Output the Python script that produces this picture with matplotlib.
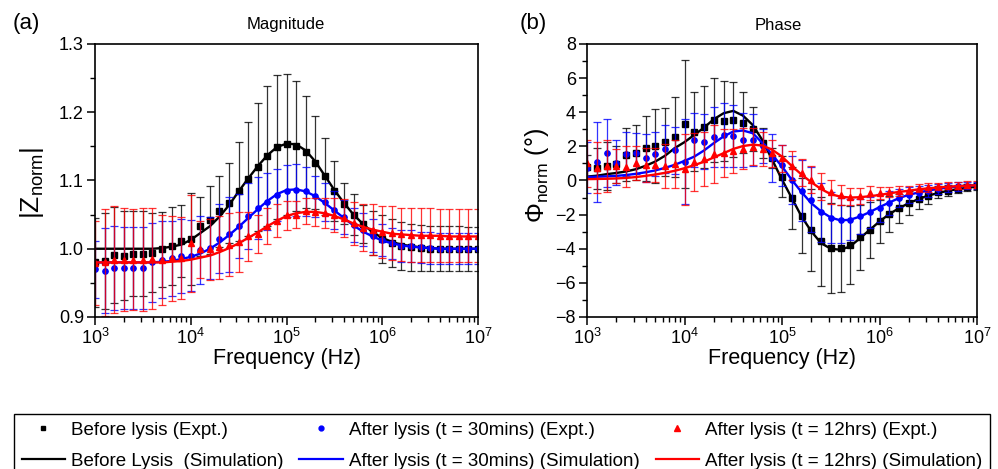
import numpy as np
import matplotlib
matplotlib.use("Agg")
import matplotlib.pyplot as plt
from matplotlib.lines import Line2D
from matplotlib.ticker import MultipleLocator, FormatStrFormatter

plt.rcParams['font.family'] = ['Liberation Sans', 'DejaVu Sans']
plt.rcParams['mathtext.fontset'] = 'custom'
plt.rcParams['mathtext.rm'] = 'Liberation Sans'
plt.rcParams['mathtext.it'] = 'Liberation Sans:italic'
plt.rcParams['mathtext.bf'] = 'Liberation Sans:bold'

# frequency grid: 10 points per decade, 1 kHz .. 10 MHz
freq = np.logspace(3, 7, 41)

# ---- magnitude |Z_norm| ----
mag_before = [0.980, 0.982, 0.991, 0.990, 0.993, 0.993, 0.994, 0.999, 1.004, 1.011,
              1.014, 1.033, 1.042, 1.055, 1.067, 1.084, 1.102, 1.120, 1.136, 1.149,
              1.153, 1.151, 1.142, 1.126, 1.106, 1.085, 1.066, 1.050, 1.036, 1.023,
              1.014, 1.008, 1.004, 1.002, 1.001, 1.000, 1.000, 1.000, 1.000, 1.000, 1.000]
mag_before_err = [0.065, 0.070, 0.070, 0.065, 0.062, 0.062, 0.058, 0.055, 0.057, 0.053,
                  0.067, 0.043, 0.050, 0.052, 0.059, 0.073, 0.083, 0.094, 0.102, 0.105,
                  0.103, 0.095, 0.082, 0.068, 0.056, 0.044, 0.030, 0.030, 0.028, 0.032,
                  0.035, 0.035, 0.035, 0.034, 0.034, 0.033, 0.033, 0.033, 0.033, 0.032, 0.032]
mag_before_sim = [1.000, 1.000, 1.000, 1.000, 1.000, 1.000, 1.000, 1.001, 1.003, 1.006,
                  1.013, 1.023, 1.033, 1.047, 1.064, 1.084, 1.103, 1.121, 1.137, 1.149,
                  1.154, 1.153, 1.144, 1.128, 1.107, 1.086, 1.067, 1.050, 1.036, 1.024,
                  1.016, 1.010, 1.006, 1.004, 1.002, 1.001, 1.000, 1.000, 1.000, 1.000, 1.000]

mag_30m = [0.970, 0.968, 0.972, 0.972, 0.972, 0.972, 0.980, 0.984, 0.986, 0.989,
           0.990, 0.998, 1.001, 1.015, 1.021, 1.033, 1.048, 1.060, 1.069, 1.079,
           1.084, 1.086, 1.084, 1.077, 1.068, 1.057, 1.047, 1.035, 1.028, 1.019,
           1.013, 1.008, 1.004, 1.004, 1.002, 1.001, 1.000, 1.000, 1.000, 1.000, 1.000]
mag_30m_err = [0.042, 0.062, 0.062, 0.060, 0.060, 0.060, 0.058, 0.056, 0.055, 0.054,
               0.052, 0.050, 0.045, 0.050, 0.055, 0.047, 0.048, 0.045, 0.042, 0.038,
               0.038, 0.038, 0.036, 0.030, 0.028, 0.028, 0.025, 0.025, 0.024, 0.024,
               0.023, 0.023, 0.023, 0.023, 0.023, 0.023, 0.023, 0.023, 0.023, 0.023, 0.023]
mag_30m_sim = [0.980, 0.980, 0.980, 0.980, 0.980, 0.980, 0.980, 0.981, 0.982, 0.985,
               0.988, 0.993, 1.000, 1.009, 1.020, 1.032, 1.045, 1.058, 1.070, 1.080,
               1.086, 1.087, 1.084, 1.077, 1.067, 1.056, 1.045, 1.034, 1.025, 1.018,
               1.012, 1.008, 1.005, 1.003, 1.002, 1.001, 1.000, 1.000, 1.000, 1.000, 1.000]

mag_12h = [0.979, 0.980, 0.984, 0.984, 0.984, 0.984, 0.985, 0.984, 0.986, 0.987,
           1.008, 0.999, 0.999, 1.002, 1.006, 1.010, 1.018, 1.022, 1.033, 1.041,
           1.049, 1.050, 1.055, 1.054, 1.052, 1.050, 1.045, 1.037, 1.031, 1.028,
           1.024, 1.023, 1.021, 1.020, 1.020, 1.020, 1.019, 1.019, 1.019, 1.019, 1.019]
mag_12h_err = [0.062, 0.078, 0.078, 0.075, 0.074, 0.075, 0.074, 0.066, 0.062, 0.060,
               0.071, 0.042, 0.045, 0.046, 0.046, 0.044, 0.036, 0.028, 0.026, 0.024,
               0.021, 0.020, 0.019, 0.020, 0.022, 0.025, 0.028, 0.032, 0.035, 0.037,
               0.038, 0.039, 0.039, 0.039, 0.039, 0.039, 0.039, 0.039, 0.039, 0.039, 0.039]
mag_12h_sim = [0.980, 0.980, 0.980, 0.980, 0.980, 0.980, 0.980, 0.980, 0.981, 0.982,
               0.984, 0.987, 0.990, 0.995, 1.001, 1.008, 1.016, 1.024, 1.033, 1.041,
               1.048, 1.052, 1.054, 1.054, 1.052, 1.048, 1.043, 1.037, 1.032, 1.028,
               1.025, 1.022, 1.021, 1.020, 1.019, 1.019, 1.019, 1.018, 1.018, 1.018, 1.018]

# ---- phase Phi_norm (deg) ----
ph_before = [0.82, 0.72, 0.85, 0.95, 1.50, 1.64, 1.89, 2.02, 2.27, 2.57,
             3.31, 2.86, 3.15, 3.55, 3.49, 3.55, 3.39, 3.00, 2.19, 1.31,
             0.23, -1.03, -2.07, -2.89, -3.57, -3.96, -3.96, -3.77, -3.32, -2.89,
             -2.40, -1.97, -1.62, -1.33, -1.09, -0.90, -0.70, -0.59, -0.49, -0.39, -0.35]
ph_before_err = [0.70, 1.20, 1.40, 1.10, 1.55, 1.60, 1.90, 2.15, 2.00, 2.35,
                 3.75, 2.30, 2.40, 2.45, 2.35, 2.20, 1.80, 1.30, 0.90, 0.60,
                 1.20, 1.80, 2.20, 2.40, 2.60, 2.65, 2.55, 2.30, 1.90, 1.65,
                 1.27, 1.05, 0.85, 0.70, 0.60, 0.45, 0.35, 0.30, 0.25, 0.20, 0.20]
ph_before_sim = [0.23, 0.28, 0.37, 0.44, 0.53, 0.66, 0.86, 1.11, 1.45, 1.90,
                 2.25, 2.67, 3.10, 3.59, 3.94, 4.08, 3.80, 3.25, 2.35, 1.20,
                 0.05, -1.03, -2.11, -2.98, -3.67, -4.00, -4.06, -3.86, -3.38, -2.89,
                 -2.40, -1.97, -1.62, -1.33, -1.09, -0.88, -0.74, -0.60, -0.51, -0.43, -0.35]

ph_30m = [0.75, 1.10, 1.59, 1.05, 1.54, 1.59, 1.34, 1.54, 1.83, 1.76,
          1.10, 2.37, 2.27, 2.57, 2.67, 2.62, 2.37, 2.37, 2.00, 1.30,
          0.90, 0.04, -0.60, -1.13, -1.87, -2.17, -2.34, -2.30, -2.11, -1.87,
          -1.62, -1.33, -1.03, -0.84, -0.74, -0.60, -0.51, -0.41, -0.35, -0.31, -0.27]
ph_30m_err = [1.50, 2.35, 2.00, 1.30, 1.30, 1.20, 1.40, 1.30, 1.40, 1.40,
              2.50, 1.60, 1.60, 1.75, 1.90, 1.80, 1.60, 1.50, 1.00, 1.40,
              1.20, 1.40, 1.80, 1.90, 1.75, 1.50, 1.30, 1.20, 1.00, 0.90,
              0.80, 0.70, 0.55, 0.45, 0.40, 0.35, 0.30, 0.25, 0.25, 0.20, 0.20]
ph_30m_sim = [0.20, 0.22, 0.24, 0.27, 0.32, 0.39, 0.48, 0.59, 0.74, 0.92,
              1.15, 1.40, 1.76, 2.19, 2.58, 2.87, 2.93, 2.77, 2.19, 1.50,
              0.82, 0.04, -0.68, -1.33, -1.81, -2.17, -2.34, -2.30, -2.11, -1.85,
              -1.56, -1.29, -1.03, -0.84, -0.70, -0.59, -0.49, -0.41, -0.35, -0.31, -0.27]

ph_12h = [1.00, 0.75, 0.85, 0.85, 0.80, 1.05, 0.90, 0.90, 0.85, 0.95,
          0.65, 1.10, 1.25, 1.55, 1.62, 1.72, 1.85, 1.98, 1.85, 1.60,
          1.30, 0.85, 0.45, 0.05, -0.35, -0.70, -0.85, -0.95, -0.90, -0.75,
          -0.72, -0.68, -0.60, -0.55, -0.45, -0.40, -0.35, -0.30, -0.30, -0.25, -0.25]
ph_12h_err = [1.40, 1.50, 1.50, 1.00, 1.20, 1.00, 1.00, 1.00, 1.30, 1.40,
              2.10, 1.70, 1.60, 1.70, 1.40, 1.30, 1.20, 1.10, 1.00, 0.80,
              0.80, 0.85, 0.80, 0.80, 0.80, 0.70, 0.60, 0.50, 0.45, 0.40,
              0.35, 0.30, 0.30, 0.25, 0.25, 0.25, 0.20, 0.20, 0.20, 0.20, 0.20]
ph_12h_sim = [0.08, 0.09, 0.10, 0.12, 0.15, 0.20, 0.27, 0.35, 0.45, 0.57,
              0.72, 0.90, 1.10, 1.35, 1.60, 1.85, 2.02, 2.10, 2.05, 1.80,
              1.40, 0.85, 0.35, -0.10, -0.50, -0.80, -0.95, -1.00, -0.98, -0.92,
              -0.85, -0.75, -0.67, -0.60, -0.52, -0.46, -0.41, -0.37, -0.33, -0.30, -0.28]

colors = ['black', '#0000ff', '#ff0000']
markers = ['s', 'o', '^']
msizes = [3.8, 3.8, 4.6]

fig = plt.figure(figsize=(9.98, 4.69), dpi=100)
ax1 = fig.add_axes([0.0952, 0.3241, 0.3838, 0.5821])
ax2 = fig.add_axes([0.5882, 0.3241, 0.3908, 0.5821])

def draw(ax, sets):
    for (y, err, sim), c, m, ms in zip(sets, colors, markers, msizes):
        ax.errorbar(freq, y, yerr=err, fmt='none', ecolor=c, elinewidth=0.9,
                    capsize=3.2, capthick=0.9, alpha=0.8)
        ax.plot(freq, y, m, color=c, ms=ms, mec=c)
        ax.plot(freq, sim, '-', color=c, lw=1.7)

draw(ax1, [(mag_before, mag_before_err, mag_before_sim),
           (mag_30m, mag_30m_err, mag_30m_sim),
           (mag_12h, mag_12h_err, mag_12h_sim)])
draw(ax2, [(ph_before, ph_before_err, ph_before_sim),
           (ph_30m, ph_30m_err, ph_30m_sim),
           (ph_12h, ph_12h_err, ph_12h_sim)])

for ax in (ax1, ax2):
    ax.set_xscale('log')
    ax.set_xlim(1e3, 1e7)
    for s in ax.spines.values():
        s.set_linewidth(1.2)
    ax.tick_params(which='major', direction='out', length=6, width=1.1, labelsize=13,
                   pad=2, top=False, right=False)
    ax.tick_params(which='minor', direction='out', length=3.5, width=1.0,
                   top=False, right=False)

ax1.set_ylim(0.9, 1.3)
ax1.yaxis.set_major_locator(MultipleLocator(0.1))
ax1.yaxis.set_minor_locator(MultipleLocator(0.05))
ax1.yaxis.set_major_formatter(FormatStrFormatter('%.1f'))

ax2.set_ylim(-8, 8)
ax2.yaxis.set_major_locator(MultipleLocator(2))
ax2.yaxis.set_minor_locator(MultipleLocator(1))

# labels and titles
fig.text(13 / 998, 1 - 24 / 469, '(a)', fontsize=16, va='center', ha='left')
fig.text(520 / 998, 1 - 24 / 469, '(b)', fontsize=16, va='center', ha='left')
fig.text(286 / 998, 1 - 25 / 469, 'Magnitude', fontsize=12, va='center', ha='center')
fig.text(778 / 998, 1 - 25 / 469, 'Phase', fontsize=12, va='center', ha='center')
fig.text(287 / 998, 1 - 358 / 469, 'Frequency (Hz)', fontsize=15.5, va='center', ha='center')
fig.text(782 / 998, 1 - 358 / 469, 'Frequency (Hz)', fontsize=15.5, va='center', ha='center')
fig.text(32 / 998, 1 - 183 / 469, r'|Z$_{\mathrm{norm}}$|', fontsize=19, rotation=90,
         va='center', ha='center')
fig.text(537 / 998, 1 - 176 / 469, r'$\Phi_{\mathrm{norm}}$ (°)', fontsize=18, rotation=90,
         va='center', ha='center')

# legend
handles = [
    Line2D([], [], ls='none', marker='s', color='black', ms=3.5),
    Line2D([], [], color='black', lw=1.6),
    Line2D([], [], ls='none', marker='o', color='#0000ff', ms=3.5),
    Line2D([], [], color='#0000ff', lw=1.6),
    Line2D([], [], ls='none', marker='^', color='#ff0000', ms=3.8),
    Line2D([], [], color='#ff0000', lw=1.6),
]
labels = ['Before lysis (Expt.)', 'Before Lysis  (Simulation)',
          'After lysis (t = 30mins) (Expt.)', 'After lysis (t = 30mins) (Simulation)',
          'After lysis (t = 12hrs) (Expt.)', 'After lysis (t = 12hrs) (Simulation)']
leg = fig.legend(handles, labels, ncol=3, loc='upper left', mode='expand',
                 bbox_to_anchor=(14 / 998, 0.0, 976 / 998, 1 - 414 / 469),
                 borderaxespad=0, fontsize=13.5, handlelength=2.3, handletextpad=0.35,
                 labelspacing=0.75, borderpad=0.4, fancybox=False, framealpha=1,
                 edgecolor='black')
leg.get_frame().set_linewidth(1.0)

fig.savefig('out.png', dpi=100)
